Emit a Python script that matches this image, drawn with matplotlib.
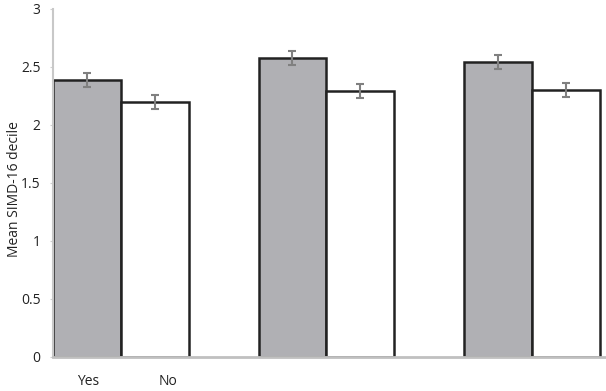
import matplotlib
matplotlib.use("Agg")
import matplotlib.pyplot as plt
import numpy as np

groups = ["", "", ""]
yes_vals = [2.39, 2.58, 2.54]
no_vals = [2.20, 2.29, 2.30]
yes_err = [0.06, 0.06, 0.06]
no_err = [0.06, 0.06, 0.06]
ylabel = "Mean SIMD-16 decile"
bar_labels = ["Yes", "No"]
yticks = [0, 0.5, 1, 1.5, 2, 2.5, 3]
ytick_labels = ["0", "0.5", "1", "1.5", "2", "2.5", "3"]

plt.rcParams['font.family'] = ['Open Sans', 'DejaVu Sans']

fig = plt.figure(figsize=(6.06, 3.91), dpi=100)
ax = fig.add_axes([53/606, 34/391, 1 - 53/606, (357 - 9)/391])

x = np.arange(len(groups))
w = 0.33
ekw = dict(ecolor="#808080", elinewidth=1.5, capsize=3, capthick=1.5)
ax.bar(x - w/2, yes_vals, w, color="#b0b0b4", edgecolor="#222222", linewidth=1.8,
       yerr=yes_err, error_kw=ekw, zorder=2)
ax.bar(x + w/2, no_vals, w, color="white", edgecolor="#222222", linewidth=1.8,
       yerr=no_err, error_kw=ekw, zorder=2)

ax.set_xlim(-0.33, 2.36)
ax.set_ylim(0, 3)
ax.set_yticks(yticks)
ax.set_yticklabels(ytick_labels, fontsize=10, color="#222222")
ax.tick_params(axis="y", length=2, color="#d0d0d0", pad=7)
ax.set_xticks([])
for s in ["top", "right"]:
    ax.spines[s].set_visible(False)
ax.spines["left"].set_color("#c8c8c8")
ax.spines["left"].set_linewidth(1.5)
ax.spines["bottom"].set_color("#c0c0c0")
ax.spines["bottom"].set_linewidth(2)
fig.text(15/606, 1 - 189/391, ylabel, rotation=90, ha="center", va="center",
         fontsize=10, color="#222222")

trans = ax.get_xaxis_transform()
ax.text(x[0] - w/2 + 0.005, -0.07, bar_labels[0], transform=trans, ha="center", va="center", fontsize=10, color="#222222")
ax.text(x[0] + w/2 + 0.065, -0.07, bar_labels[1], transform=trans, ha="center", va="center", fontsize=10, color="#222222")

fig.savefig("out.png", dpi=100)
